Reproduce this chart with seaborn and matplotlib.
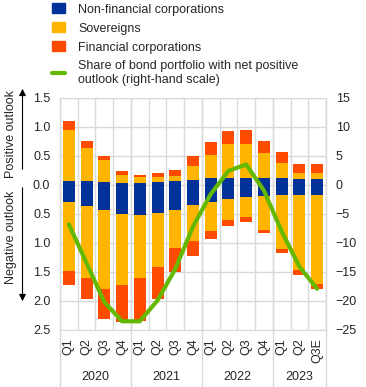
import numpy as np
import pandas as pd
import seaborn as sns
import matplotlib
import matplotlib.pyplot as plt
from matplotlib.patches import Patch
from matplotlib.lines import Line2D
from matplotlib.ticker import FuncFormatter, MultipleLocator

matplotlib.use('Agg')

quarters = ["Q1", "Q2", "Q3", "Q4", "Q1", "Q2", "Q3", "Q4",
            "Q1", "Q2", "Q3", "Q4", "Q1", "Q2", "Q3E"]
years = ["2020", "2021", "2022", "2023"]
year_counts = [4, 4, 4, 3]

# positive outlook (share of portfolio, left scale)
nfc_pos = [0.07, 0.06, 0.04, 0.03, 0.03, 0.05, 0.07, 0.09, 0.11, 0.12, 0.12, 0.12, 0.12, 0.10, 0.10]
sov_pos = [0.88, 0.58, 0.38, 0.14, 0.11, 0.09, 0.08, 0.24, 0.41, 0.59, 0.59, 0.43, 0.26, 0.10, 0.10]
fin_pos = [0.15, 0.11, 0.07, 0.06, 0.03, 0.07, 0.10, 0.16, 0.22, 0.22, 0.23, 0.20, 0.18, 0.16, 0.15]
# negative outlook (magnitudes, left scale)
nfc_neg = [0.30, 0.37, 0.43, 0.50, 0.52, 0.49, 0.43, 0.35, 0.29, 0.25, 0.21, 0.19, 0.18, 0.17, 0.17]
sov_neg = [1.18, 1.23, 1.36, 1.23, 1.09, 0.92, 0.65, 0.62, 0.50, 0.36, 0.34, 0.58, 0.93, 1.30, 1.53]
fin_neg = [0.25, 0.37, 0.52, 0.64, 0.73, 0.56, 0.42, 0.26, 0.14, 0.10, 0.09, 0.06, 0.07, 0.08, 0.10]
# share with net positive outlook (right-hand scale)
net_share = [-6.8, -13.5, -20.2, -23.5, -23.5, -19.9, -14.5, -7.2, -1.6, 2.4, 3.5, -1.0, -8.0, -14.1, -17.9]

BLUE = "#003299"
YELLOW = "#ffb400"
RED = "#ff4b00"
GREEN = "#65b800"
GRID = "#d9d9d9"

sns.set_style("white")
plt.rcParams["font.family"] = ["Liberation Sans", "DejaVu Sans"]
plt.rcParams["font.size"] = 9

periods = [f"{y}-{i}" for y, n in zip(years, year_counts) for i in range(n)]
df = pd.DataFrame({"period": periods})
df["p_blue"] = np.array(nfc_pos)
df["p_yellow"] = df["p_blue"] + np.array(sov_pos)
df["p_red"] = df["p_yellow"] + np.array(fin_pos)
df["n_blue"] = -np.array(nfc_neg)
df["n_yellow"] = df["n_blue"] - np.array(sov_neg)
df["n_red"] = df["n_yellow"] - np.array(fin_neg)

fig = plt.figure(figsize=(3.66, 3.87), dpi=100)
ax = fig.add_axes([60 / 366, 1 - 330 / 387, 266 / 366, 232.3 / 387])

for col, c in [("p_red", RED), ("p_yellow", YELLOW), ("p_blue", BLUE),
               ("n_red", RED), ("n_yellow", YELLOW), ("n_blue", BLUE)]:
    sns.barplot(data=df, x="period", y=col, color=c, saturation=1,
                width=0.68, errorbar=None, linewidth=0, ax=ax)

n = len(quarters)
ax.set_xlim(-0.5, n - 0.5)
ax.set_ylim(-2.5, 1.5)
ax.yaxis.set_major_locator(MultipleLocator(0.5))
ax.yaxis.set_major_formatter(FuncFormatter(lambda v, p: f"{abs(v):.1f}"))
ax.set_xticks(range(n))
ax.set_xticklabels(quarters, rotation=90)
ax.set_xticks(np.arange(-0.5, n, 1), minor=True)
ax.set_axisbelow(True)
ax.grid(axis="y", which="major", color=GRID, lw=1)
ax.grid(axis="x", which="minor", color=GRID, lw=1)
ax.tick_params(axis="both", which="both", length=0)
ax.tick_params(axis="y", pad=7)
ax.tick_params(axis="x", pad=6)
ax.set_xlabel("")
ax.set_ylabel("")
for s in ax.spines.values():
    s.set_color(GRID)

# year separators extending below the axis
edges = np.concatenate([[0], np.cumsum(year_counts)]) - 0.5
for e in edges:
    ax.axvline(e, ymin=-0.25, ymax=1, color=GRID, lw=1, clip_on=False)
for y, a, b in zip(years, edges[:-1], edges[1:]):
    ax.text((a + b) / 2, -0.203, y, transform=ax.get_xaxis_transform(),
            ha="center", va="center", fontsize=9)

ax2 = ax.twinx()
sns.lineplot(x=np.arange(n), y=net_share, color=GREEN, lw=3, ax=ax2)
ax2.set_ylim(-25, 15)
ax2.set_xlim(-0.5, n - 0.5)
ax2.yaxis.set_major_locator(MultipleLocator(5))
ax2.tick_params(axis="y", length=0, pad=7)
ax2.grid(False)
for s in ax2.spines.values():
    s.set_visible(False)

# outlook arrows on the left
fig.text(11.5 / 366, 1 - 134 / 387, "Positive outlook", rotation=90,
         ha="center", va="center", fontsize=9)
fig.text(11.5 / 366, 1 - 237 / 387, "Negative outlook", rotation=90,
         ha="center", va="center", fontsize=9)
ax.annotate("", xy=(22.5 / 366, 1 - 86 / 387), xytext=(22.5 / 366, 1 - 172 / 387),
            xycoords="figure fraction", textcoords="figure fraction",
            arrowprops=dict(arrowstyle="-|>", color="black", lw=0.8, mutation_scale=10))
ax.annotate("", xy=(22.5 / 366, 1 - 304 / 387), xytext=(22.5 / 366, 1 - 185 / 387),
            xycoords="figure fraction", textcoords="figure fraction",
            arrowprops=dict(arrowstyle="-|>", color="black", lw=0.8, mutation_scale=10))

handles = [Patch(color=BLUE), Patch(color=YELLOW), Patch(color=RED),
           Line2D([], [], color=GREEN, lw=3)]
labels = ["Non-financial corporations", "Sovereigns", "Financial corporations",
          "Share of bond portfolio with net positive\noutlook (right-hand scale)"]
fig.legend(handles, labels, loc="upper left", bbox_to_anchor=(47 / 366, 1.005),
           frameon=False, fontsize=9, handlelength=1.0, handleheight=0.9,
           handletextpad=1.1, labelspacing=0.52, borderaxespad=0)

fig.savefig("out.png", dpi=100)
